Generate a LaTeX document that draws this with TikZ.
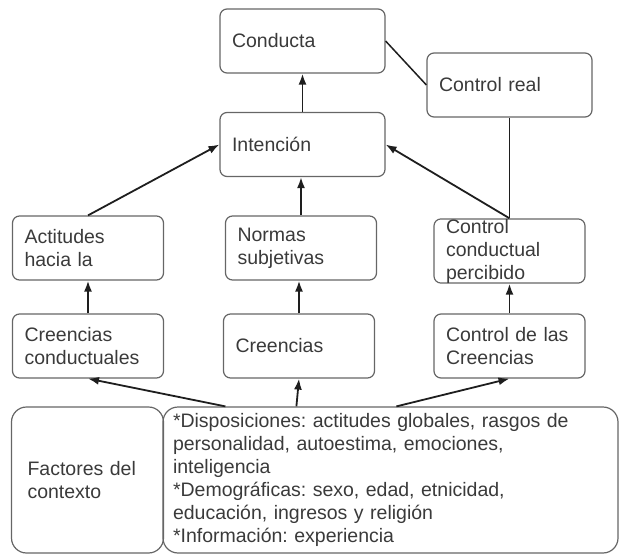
\documentclass[tikz,border=0pt]{standalone}
\usepackage{fontspec}
\setmainfont{Liberation Sans}
\usetikzlibrary{shapes}
\usetikzlibrary{arrows,arrows.meta}
\definecolor{bordegris}{HTML}{666666}
\definecolor{textogris}{HTML}{3A3A3A}
\definecolor{lineagris}{HTML}{1E1E1E}
\hyphenpenalty=10000
\exhyphenpenalty=10000
\frenchspacing

\begin{document}
\begin{tikzpicture}[x=1pt,y=-1pt]
				\tikzstyle{caja}=[draw=bordegris, line width=1.2pt, rounded corners=7pt, text=textogris, align=left, inner xsep=12pt, inner ysep=0pt, minimum height=64pt, font=\fontsize{19.5}{23}\selectfont]
				\tikzstyle{ancha}=[caja, text width=141pt]
				\tikzstyle{estrecha}=[caja, text width=127pt]
				\tikzstyle{grande}=[caja, rounded corners=15pt, minimum height=146pt]
				\tikzstyle{flecha}=[-{Latex[length=11pt,width=8pt]}, line width=1.8pt, draw=lineagris]
				\tikzstyle{linea}=[line width=1.5pt, draw=lineagris]
				
				\useasboundingbox (0,0) rectangle (622,554);
				
				\node[ancha] (conducta) at (302.5,41) {Conducta};
				\node[ancha] (controlreal) at (509.5,85) {Control real};
				\node[ancha] (intencion) at (302.5,144.5) {Intención};
				
				\node[estrecha] (actitudes) at (88,248) {Actitudes hacia la};
				\node[estrecha] (normas) at (301,248) {Normas subjetivas};
				\node[estrecha] (percibido) at (509.5,251) {Control conductual percibido};
				
				\node[estrecha] (creenciasc) at (88,346) {Creencias conductuales};
				\node[estrecha] (creencias) at (299,346) {Creencias};
				\node[estrecha] (controlc) at (509.5,346) {Control de las Creencias};
				
				\node[grande, text width=120pt, inner xsep=16pt] (factores) at (87.5,480) {Factores del contexto};
				\node[grande, text width=435pt, inner xsep=10pt] (info) at (390.5,480) {{*}Disposiciones: actitudes globales, rasgos de\\ personalidad, autoestima, emociones,\\ inteligencia\\ {*}Demográficas: sexo, edad, etnicidad,\\ educación, ingresos y religión\\ {*}Información: experiencia};
				
				\draw[flecha] (intencion) -- (conducta);
				\draw[linea] (conducta.east) -- (controlreal.west);
				\draw[linea] (controlreal.south) -- (percibido.north);
				\draw[flecha] (actitudes.north) -- (intencion.west);
				\draw[flecha] (normas.north) -- (intencion.south -| normas.north);
				\draw[flecha] (percibido.north) -- (intencion.east);
				\draw[flecha] (creenciasc) -- (actitudes);
				\draw[flecha] (creencias.north) -- (normas.south -| creencias.north);
				\draw[flecha] (controlc) -- (percibido);
				\draw[flecha] ([xshift=63pt]info.north west) -- (creenciasc.south);
				\draw[flecha] ([xshift=134pt]info.north west) -- (creencias.south);
				\draw[flecha] ([xshift=234pt]info.north west) -- (controlc.south);
\end{tikzpicture}
\end{document}
